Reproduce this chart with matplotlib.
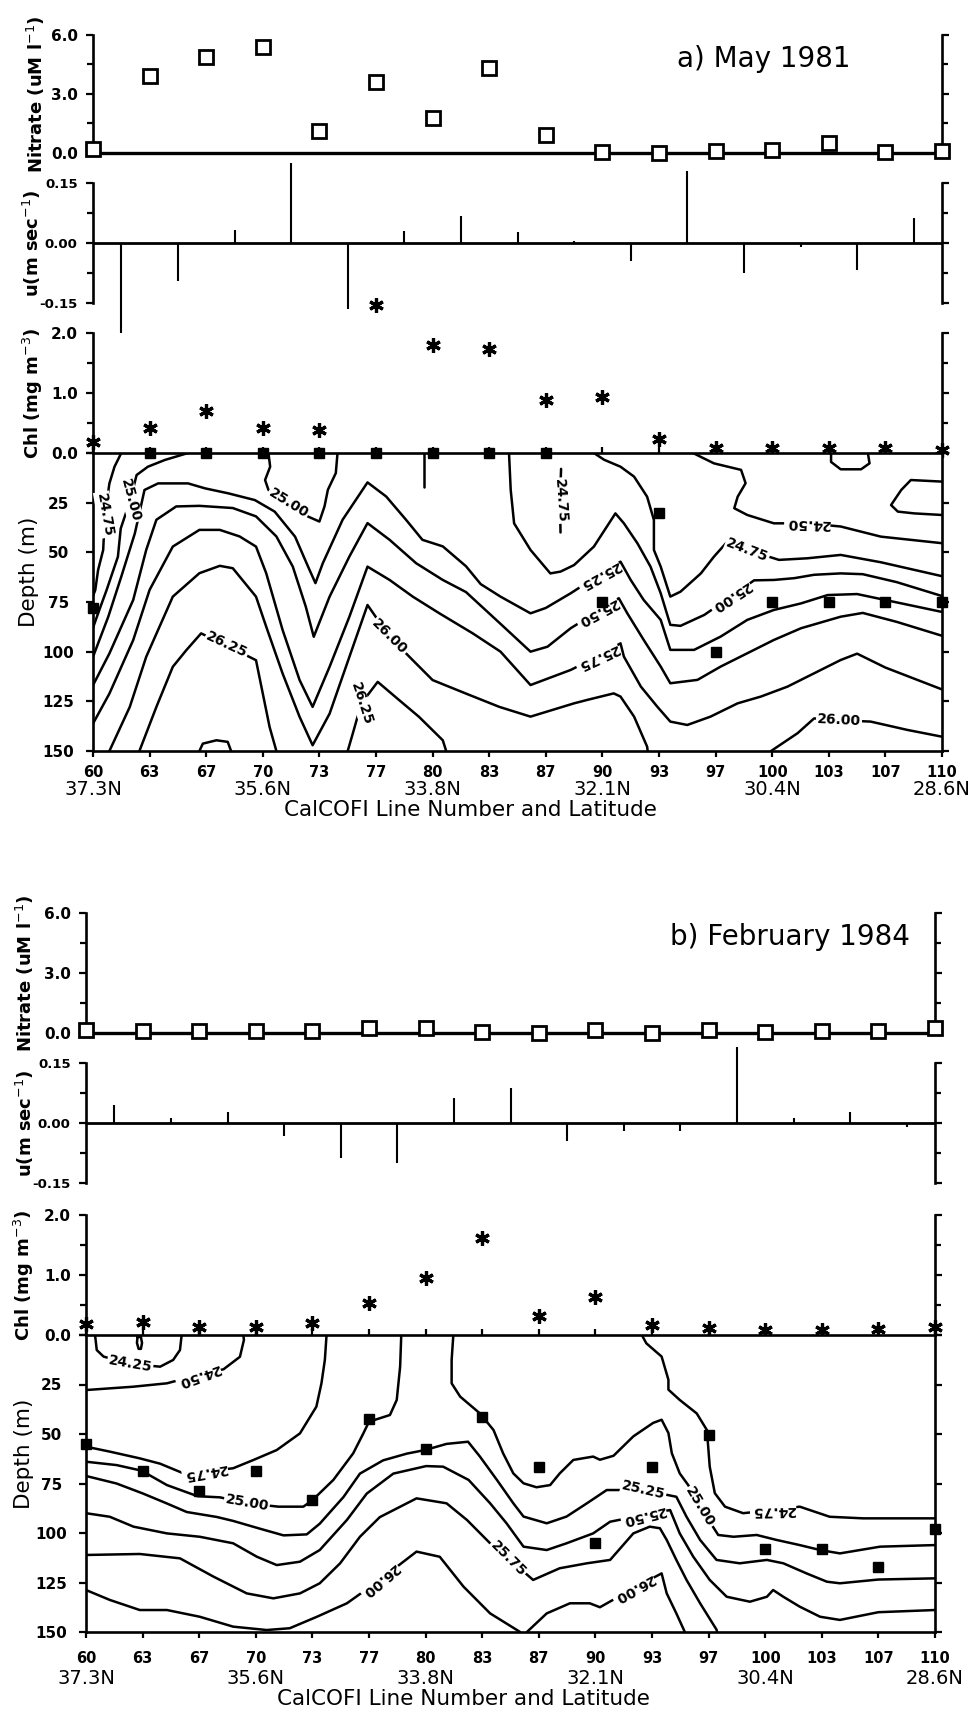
"""CalCOFI sections along the coast: nitrate, cross-shore u, surface chlorophyll
and sigma-t isopycnals for May 1981 and February 1984."""

import matplotlib

matplotlib.use("Agg")

import matplotlib.pyplot as plt
import numpy as np

W, H, DPI = 974, 1710, 100

STATIONS = ["60", "63", "67", "70", "73", "77", "80", "83",
            "87", "90", "93", "97", "100", "103", "107", "110"]
LAT_STATIONS = ["60", "70", "80", "90", "100", "110"]
LAT_LABELS = ["37.3N", "35.6N", "33.8N", "32.1N", "30.4N", "28.6N"]

# ---------------- a) May 1981 ----------------
MAY_NITRATE = [0.2, 3.9, 4.9, 5.4, 1.1, 3.6, 1.8, 4.3,
               0.9, 0.05, 0.0, 0.1, 0.15, 0.5, 0.05, 0.1]
# u is plotted half way between stations
MAY_U = [-0.27, -0.095, 0.033, 0.20, -0.165, 0.03, 0.068, 0.028,
         0.005, -0.045, 0.18, -0.075, -0.01, -0.068, 0.063]
MAY_CHL = [0.18, 0.42, 0.7, 0.42, 0.38, 2.47, 1.8, 1.73,
           0.88, 0.93, 0.23, 0.08, 0.08, 0.08, 0.08, 0.05]
MAY_CHL_DEPTH = [78, 0, 0, 0, 0, 0, 0, 0, 0, 75, 30, 100, 75, 75, 75, 75]

# isopycnal traces: (station index, depth m)
MAY_SIGMA = {
    "24.50": [
        [(10.6, 0), (10.97, 5.2), (11.45, 8.5), (11.53, 15.2), (11.39, 22), (11.33, 27.8),
         (11.56, 31.2), (12.03, 35.4), (12.62, 35.4), (13.21, 37), (13.92, 42.1), (15, 45.4)],
        [(13.04, 0), (13.04, 4.5), (13.21, 8.2), (13.57, 8.2), (13.72, 5.2), (13.69, 0)],
        [(15, 14.4), (14.45, 13.6), (14.28, 18.6), (14.1, 26.2), (14.22, 29.5),
         (14.51, 30.4), (15, 31.2)],
    ],
    "24.75": [
        [(0.5, 0), (0.38, 6.9), (0.29, 15.3), (0.21, 31), (0.18, 48.8), (0.09, 58.9),
         (0.04, 69), (0.0, 72)],
        [(8.27, 8), (8.25, 24), (8.26, 40)],
        [(8.85, 0), (9.03, 3.4), (9.32, 6.9), (9.56, 11.9), (9.79, 22), (9.91, 33.7),
         (9.91, 48.8), (10.03, 57.2), (10.2, 72.3), (10.38, 69.8), (10.74, 60.6),
         (10.97, 52.2), (11.18, 45.5), (11.56, 48.8), (12.12, 53.8), (12.62, 53),
         (13.21, 51.3), (13.92, 55), (15, 62)],
    ],
    "25.00": [
        [(1.68, 0), (1.27, 3.5), (0.97, 6.9), (0.77, 11.1), (0.66, 23.6), (0.49, 38),
         (0.44, 52.2), (0.24, 69), (0.09, 80.7), (0.0, 88)],
        [(3.1, 0), (3.13, 6.9), (3.04, 13.6), (3.1, 18.6), (3.45, 25.3), (3.8, 32),
         (4.0, 34.5), (4.09, 26.9), (4.15, 18.5), (4.29, 10.1), (4.32, 0)],
        [(5.84, 0), (5.84, 17)],
        [(7.35, 0), (7.38, 18.6), (7.44, 35.4), (7.73, 48.8), (8.08, 60.6), (8.26, 59.7),
         (8.5, 56.4), (8.85, 47.1), (9.23, 30.4), (9.38, 35.4), (9.62, 45.5), (9.85, 57.2),
         (10.03, 70.6), (10.2, 86.5), (10.38, 87), (10.8, 81.5), (11.27, 72.3),
         (11.68, 64.1), (12.03, 63.9), (12.39, 63), (12.74, 61.3), (13.21, 60.6),
         (13.6, 61), (14.2, 65), (15, 72)],
    ],
    "25.25": [
        [(0, 102.6), (0.27, 82.4), (0.5, 62.2), (0.74, 40.4), (0.91, 18.6), (1.15, 15.3),
         (1.68, 15.3), (1.98, 17.8), (2.39, 20.3), (2.86, 23.7), (3.21, 29.5), (3.57, 42.1),
         (3.8, 57.2), (3.93, 65.5), (4.06, 55.5), (4.41, 33.6), (4.85, 14.8), (5.18, 21.9),
         (5.53, 33.6), (5.82, 43.7), (6.18, 47), (6.59, 57), (6.85, 66), (7.2, 72.3),
         (7.73, 80.7), (8.0, 78), (8.44, 70.6), (8.94, 61.4), (9.32, 54.7), (9.5, 63.9),
         (9.73, 74), (10.03, 84), (10.2, 99.1), (10.62, 99.1), (11.09, 92.4), (11.56, 84),
         (12.03, 79), (12.51, 75.7), (12.98, 71.5), (13.5, 71), (14, 74), (15, 80)],
    ],
    "25.50": [
        [(0, 116.9), (0.29, 100.9), (0.71, 74), (0.94, 48.8), (1.12, 33.6), (1.47, 26.9),
         (1.88, 26.6), (2.47, 27.7), (2.88, 31.9), (3.24, 42), (3.53, 57.2), (3.76, 77.4),
         (3.9, 92.5), (4.18, 72.3), (4.53, 52.1), (4.85, 35.3), (5.24, 43.7), (5.71, 55.5),
         (6.18, 63.9), (6.59, 70), (7.2, 86), (7.73, 100), (8.03, 97.5), (8.44, 88.2),
         (8.91, 79.9), (9.29, 73.1), (9.44, 80.7), (9.73, 94.1), (10.03, 107.5),
         (10.2, 115.9), (10.68, 114.2), (11.09, 107.5), (11.56, 100.8), (12.03, 94.1),
         (12.51, 88.2), (13.21, 82.4), (13.6, 80.5), (14.2, 85), (15, 92)],
    ],
    "25.75": [
        [(0, 136.2), (0.29, 121.1), (0.71, 94.2), (1.0, 68.9), (1.41, 47.1), (1.88, 38.7),
         (2.24, 38.7), (2.59, 42), (2.88, 47.1), (3.06, 60.5), (3.35, 89.1), (3.65, 114.3),
         (3.88, 127.8), (4.18, 107.6), (4.53, 82.4), (4.85, 57.2), (5.24, 63.9),
         (5.65, 72.3), (6.12, 80.7), (6.71, 90.8), (7.2, 100), (7.73, 116.8), (8.44, 109.2),
         (8.91, 102.5), (9.32, 95.8), (9.38, 102.5), (9.68, 117.6), (9.97, 127.7),
         (10.2, 135.2), (10.5, 136.9), (10.91, 132.7), (11.39, 126), (11.8, 122.6),
         (12.27, 117.6), (12.74, 110.9), (13.21, 104.2), (13.5, 101), (14.0, 108),
         (15, 119)],
    ],
    "26.00": [
        [(0.29, 150), (0.65, 127.8), (0.94, 102.6), (1.41, 72.3), (1.88, 60.5),
         (2.24, 56.8), (2.47, 58), (2.88, 72.3), (3.06, 87.4), (3.35, 111), (3.65, 132.8),
         (3.88, 147.1), (4.18, 131.2), (4.53, 102.6), (4.85, 76.5), (5.24, 92.5),
         (5.65, 104.3), (6.0, 114.3), (6.59, 121.1), (7.18, 127.8), (7.73, 132.7),
         (8.5, 126), (8.73, 124.3), (9.2, 121), (9.32, 122.6), (9.56, 132.7),
         (9.79, 147.8), (9.8, 150)],
        [(11.98, 150), (12.45, 141), (12.74, 133.6), (13.18, 134.5), (13.74, 135.2),
         (14.39, 139.4), (15, 142.8)],
    ],
    "26.25": [
        [(0.82, 150), (1.12, 127.8), (1.41, 107.6), (1.65, 99.2), (1.91, 90.8),
         (2.35, 96.7), (2.88, 104.3), (3.0, 121.1), (3.12, 137.9), (3.24, 150)],
        [(4.5, 150), (4.59, 141.2), (4.74, 126.1), (5.03, 115.2), (5.41, 124.4),
         (5.76, 132.8), (6.18, 144.6), (6.24, 150)],
    ],
    "26.50": [
        [(1.88, 150), (1.94, 146.3), (2.18, 144.6), (2.38, 145.4), (2.44, 150)],
    ],
}
MAY_LABELS = ["24.75", "25.00", "25.00", "26.25", "26.00", "26.25", "24.75",
              "25.25", "25.50", "25.75", "25.00", "24.75", "24.50", "26.00"]
MAY_LABEL_AT = [(0.21, 31, -80), (0.66, 23.6, -75), (3.45, 25.3, -32), (2.36, 96.7, -25),
                (5.24, 92.5, -45), (4.74, 126.1, -72), (8.25, 24, -86), (8.94, 61.4, 209),
                (8.91, 79.9, 208), (8.91, 102.5, 205), (11.27, 72.3, 213),
                (11.56, 48.8, -21), (12.62, 35.4, 178), (13.18, 134.5, -3)]

# ---------------- b) February 1984 ----------------
FEB_NITRATE = [0.15, 0.1, 0.1, 0.1, 0.1, 0.25, 0.25, 0.05,
               0.0, 0.15, 0.0, 0.15, 0.05, 0.12, 0.1, 0.25]
FEB_U = [0.045, 0.012, 0.028, -0.033, -0.088, -0.10, 0.063, 0.088,
         -0.045, -0.02, -0.02, 0.19, 0.012, 0.028, -0.01]
FEB_CHL = [0.18, 0.22, 0.13, 0.13, 0.2, 0.53, 0.95, 1.62,
           0.32, 0.63, 0.17, 0.12, 0.08, 0.08, 0.1, 0.13]
FEB_CHL_DEPTH = [55, 68.5, 79, 68.5, 83.5, 42.5, 57.5, 41.5,
                 66.5, 105, 66.5, 50.5, 108, 108, 117, 98]

FEB_SIGMA = {
    "24.25": [
        [(0.16, 0), (0.19, 7.6), (0.31, 10.9), (0.78, 14.6), (1.31, 16), (1.54, 12.6),
         (1.66, 7.6), (1.69, 0)],
        [(0.91, 1), (0.9, 4), (0.93, 7), (0.97, 7), (0.99, 4), (0.97, 1), (0.91, 1)],
    ],
    "24.50": [
        [(0, 27.8), (0.84, 26.1), (1.43, 24.4), (1.98, 20.2), (2.43, 17.3), (2.72, 11),
         (2.79, 2.5), (2.78, 0)],
    ],
    "24.75": [
        [(4.25, 0), (4.22, 12.6), (4.16, 24.4), (4.07, 36.2), (3.78, 49.7), (3.37, 58.1),
         (2.96, 63.1), (2.6, 67.3), (2.1, 69), (1.69, 69.5), (1.31, 65), (0.95, 62.3),
         (0.42, 58.9), (0, 56.4)],
        [(9.82, 0), (9.9, 4.2), (10.17, 10.9), (10.29, 22.6), (10.29, 27.6), (10.49, 32.8),
         (10.79, 39.6), (10.97, 48), (11.02, 66.5), (11.11, 79.9), (11.29, 86.7),
         (11.61, 90), (12.14, 88.4), (12.61, 86.7), (13.14, 91.8), (13.73, 92.6),
         (15, 92.6)],
    ],
    "25.00": [
        [(0, 64), (0.54, 65.7), (0.98, 68.5), (1.43, 75.8), (1.97, 81.4), (2.37, 82),
         (2.84, 85), (3.4, 86.7), (3.84, 86.7), (3.99, 83.7), (4.37, 73.2), (4.72, 59.8),
         (4.9, 49.7), (5.0, 43.8), (5.37, 40.4), (5.49, 32.8), (5.55, 16), (5.57, 0)],
        [(6.49, 0), (6.46, 12.6), (6.46, 24.4), (6.61, 31.1), (6.96, 39.6), (7.2, 48),
         (7.37, 59.8), (7.55, 69.9), (7.73, 74.9), (7.96, 76.9), (8.2, 75.8), (8.37, 69.9),
         (8.61, 63.1), (8.96, 61.4), (9.08, 63), (9.32, 61), (9.67, 51.2), (10.02, 44.4),
         (10.17, 42.8), (10.29, 49.5), (10.35, 59.7), (10.49, 69.9), (10.64, 75.8),
         (10.85, 86.7), (11.17, 101), (11.44, 101.9), (11.85, 101), (12.2, 103.5),
         (12.61, 106.1), (12.97, 108.6), (13.32, 110.3), (14.03, 106.9), (15, 106.1)],
    ],
    "25.25": [
        [(0, 71.2), (0.54, 75), (1.01, 80.1), (1.43, 85.1), (1.78, 89.4), (2.31, 91.9),
         (2.6, 93.9), (3.07, 97.8), (3.49, 101.2), (3.9, 100.7), (4.13, 95.3), (4.55, 81.8),
         (4.84, 70), (5.25, 63.3), (5.67, 59.9), (5.99, 58.1), (6.37, 55), (6.75, 53.9),
         (6.96, 61.4), (7.26, 73.2), (7.55, 85), (7.73, 91.7), (8.14, 95.1), (8.49, 91.7),
         (8.85, 85), (9.2, 78.3), (9.85, 78.3), (10.43, 81.7), (10.61, 91.8),
         (10.85, 103.5), (11.14, 113.6), (11.55, 115.3), (12.03, 113.6), (12.32, 115.3),
         (12.73, 120.4), (13.09, 124.6), (13.32, 125.4), (14, 123.5), (15, 122.9)],
    ],
    "25.50": [
        [(0, 90), (0.42, 91.8), (0.84, 96.8), (1.43, 100.2), (2.01, 101.9), (2.6, 105.2),
         (3.02, 112), (3.37, 116.2), (3.78, 114.5), (4.13, 108.6), (4.61, 93.4),
         (4.96, 80.1), (5.43, 70), (6.01, 66.2), (6.31, 66.5), (6.76, 73.2), (7.14, 85),
         (7.43, 95.1), (7.73, 106.9), (8.14, 108.6), (8.49, 105.2), (8.96, 100.2),
         (9.26, 94.3), (9.85, 90.9), (10.32, 88.4), (10.49, 100.2), (10.73, 112),
         (11.02, 123.7), (11.32, 132.2), (11.73, 134.7), (12.03, 132.2), (12.14, 128.8),
         (12.32, 132.2), (12.61, 137.2), (12.97, 142.3), (13.32, 143.9), (14, 140),
         (15, 138.9)],
    ],
    "25.75": [
        [(0, 111.1), (0.95, 110.6), (1.66, 112.8), (2.25, 122), (2.84, 130.5), (3.31, 133),
         (3.78, 130.5), (4.13, 125.4), (4.49, 115.3), (4.84, 101.9), (5.19, 92),
         (5.84, 82.5), (6.37, 85), (6.73, 93.4), (7.14, 105.2), (7.46, 112.8), (7.9, 123.7),
         (8.37, 117.8), (8.85, 115.3), (9.26, 113.6), (9.67, 100.2), (9.96, 96.8),
         (10.14, 97.6), (10.26, 103.5), (10.43, 113.6), (10.61, 123.7), (10.85, 135.5),
         (11.14, 148.8), (11.15, 150)],
    ],
    "26.00": [
        [(0, 128.8), (0.42, 133.8), (0.95, 138.9), (1.43, 138.9), (2.01, 142.3),
         (2.6, 147.3), (3.19, 149), (3.6, 148.1), (4.08, 142.3), (4.61, 135.5),
         (5.19, 123.7), (5.84, 109.4), (6.25, 112), (6.67, 127.1), (7.14, 140.6),
         (7.67, 150)],
        [(7.79, 150), (8.14, 140.6), (8.55, 135.5), (8.9, 135.5), (9.08, 137.5),
         (9.67, 128), (10.17, 120.4), (10.26, 130.5), (10.43, 140.6), (10.58, 150)],
    ],
}
FEB_LABELS = ["24.25", "24.50", "24.75", "25.00", "26.00", "25.75", "25.25",
              "25.50", "25.00", "24.75", "26.00"]
FEB_LABEL_AT = [(0.78, 14.6, -10), (1.98, 20.2, 200), (2.1, 69, 190), (2.84, 85, -10),
                (5.19, 123.7, 220), (7.46, 112.8, -45), (9.85, 78.3, -13),
                (9.85, 90.9, 194), (10.85, 86.7, -59), (12.14, 88.4, 181),
                (9.67, 128, 209)]


def px_axes(fig, x0, x1, y0, y1):
    return fig.add_axes([x0 / W, 1 - y1 / H, (x1 - x0) / W, (y1 - y0) / H])


def frame(ax, sides):
    for side in ("left", "right", "top", "bottom"):
        ax.spines[side].set_visible(side in sides)
        ax.spines[side].set_linewidth(1.9)
    ax.set_xlim(0, len(STATIONS) - 1)
    ax.tick_params(axis="y", which="both", direction="out", left=True, right=True,
                   labelright=False, width=1.6, labelsize=11, pad=6)
    ax.tick_params(axis="y", which="major", length=5)
    ax.tick_params(axis="y", which="minor", length=4)
    for lab in ax.get_yticklabels():
        lab.set_fontweight("bold")


def ylabel(ax, text, xfrac, yfrac=0.5, size=13, weight="bold"):
    ax.text(xfrac, yfrac, text, transform=ax.transAxes, rotation=90, ha="center",
            va="center", fontsize=size, fontweight=weight)


def draw_panel(fig, x0, x1, rows, title, nitrate, u, chl, chl_depth, sigma,
               label_text, label_at, lab_x, bottom_text):
    x = np.arange(len(STATIONS))
    width = x1 - x0
    tick_pad, lat_y, xlab_y = bottom_text

    # nitrate
    ax = px_axes(fig, x0, x1, *rows[0])
    ax.set_ylim(0, 6)
    ax.set_yticks([0, 3, 6], ["0.0", "3.0", "6.0"])
    ax.set_yticks([1.5, 4.5], minor=True)
    ax.set_xticks([])
    frame(ax, ("left", "right", "bottom"))
    ax.spines["bottom"].set_linewidth(2.4)
    ax.plot(x, nitrate, "s", ms=9.5, mfc="white", mec="black", mew=2.0,
            clip_on=False, zorder=5)
    ylabel(ax, r"Nitrate (uM l$^{-1}$)", (lab_x[0] - x0) / width)
    ax.text(0.688, 0.80, title, transform=ax.transAxes, ha="left", va="center",
            fontsize=20)

    # cross-shore velocity
    ax = px_axes(fig, x0, x1, *rows[1])
    ax.set_ylim(-0.15, 0.15)
    ax.set_yticks([-0.15, 0, 0.15], ["-0.15", "0.00", "0.15"])
    ax.set_yticks([-0.075, 0.075], minor=True)
    ax.set_xticks([])
    frame(ax, ("left", "right"))
    ax.tick_params(axis="y", labelsize=9.5)
    ax.axhline(0, color="black", lw=2.0)
    ax.vlines(np.arange(len(u)) + 0.5, 0, u, color="black", lw=1.5, clip_on=False)
    ylabel(ax, r"u(m sec$^{-1}$)", (lab_x[1] - x0) / width)

    # chlorophyll
    ax = px_axes(fig, x0, x1, *rows[2])
    ax.set_ylim(0, 2)
    ax.set_yticks([0, 1, 2], ["0.0", "1.0", "2.0"])
    ax.set_yticks([0.5, 1.5], minor=True)
    ax.set_xticks([])
    frame(ax, ("left", "right"))
    ax.plot(x, chl, ls="none", marker=(6, 2, 0), ms=10.5, mew=2.3, color="black",
            clip_on=False, zorder=5)
    ylabel(ax, r"Chl (mg m$^{-3}$)", (lab_x[2] - x0) / width)

    # sigma-t section
    ax = px_axes(fig, x0, x1, *rows[3])
    ax.set_ylim(150, 0)
    ax.set_yticks([0, 25, 50, 75, 100, 125, 150],
                  ["", "25", "50", "75", "100", "125", "150"])
    frame(ax, ("left", "right", "top", "bottom"))
    ax.tick_params(axis="y", pad=20)
    for lab in ax.get_yticklabels():
        lab.set_horizontalalignment("center")
    ax.set_xticks(x, STATIONS)
    ax.tick_params(axis="x", direction="out", top=True, labeltop=False, width=1.6,
                   length=4, labelsize=10.5, pad=tick_pad)
    for lab in ax.get_xticklabels():
        lab.set_fontweight("bold")

    for pieces in sigma.values():
        for piece in pieces:
            px, pd = zip(*piece)
            ax.plot(px, pd, color="black", lw=1.8, solid_joinstyle="round",
                    solid_capstyle="round", zorder=2)
    for text, (lx, ld, rot) in zip(label_text, label_at):
        ax.text(lx, ld, text, rotation=rot, rotation_mode="anchor", ha="center",
                va="center", fontsize=10, fontweight="bold", zorder=3,
                bbox=dict(boxstyle="square,pad=0.08", fc="white", ec="none"))
    ax.plot(x, chl_depth, "s", ms=7, color="black", clip_on=False, zorder=6)

    xa = ax.get_xaxis_transform()
    for st, lat in zip(LAT_STATIONS, LAT_LABELS):
        ax.text(STATIONS.index(st), lat_y, lat, transform=xa, ha="center",
                va="center", fontsize=14)
    ax.text(0.445, xlab_y, "CalCOFI Line Number and Latitude", transform=ax.transAxes,
            ha="center", va="center", fontsize=15.5)
    ylabel(ax, "Depth (m)", (lab_x[3] - x0) / width, yfrac=0.6, size=15.5,
           weight="normal")


def main():
    plt.rcParams["font.family"] = "DejaVu Sans"
    fig = plt.figure(figsize=(W / DPI, H / DPI), dpi=DPI)

    draw_panel(fig, 93, 942, [(35, 153), (183, 303), (333, 453), (453, 751)],
               "a) May 1981", MAY_NITRATE, MAY_U, MAY_CHL, MAY_CHL_DEPTH,
               MAY_SIGMA, MAY_LABELS, MAY_LABEL_AT, (36, 32, 33, 29),
               (6, -0.128, -0.197))
    draw_panel(fig, 86, 935, [(913, 1033), (1063, 1183), (1215, 1335), (1335, 1632)],
               "b) February 1984", FEB_NITRATE, FEB_U, FEB_CHL, FEB_CHL_DEPTH,
               FEB_SIGMA, FEB_LABELS, FEB_LABEL_AT, (25, 25, 24, 24.5),
               (10, -0.155, -0.225))

    fig.savefig("out.png", dpi=DPI, facecolor="white")
    plt.close(fig)


if __name__ == "__main__":
    main()
